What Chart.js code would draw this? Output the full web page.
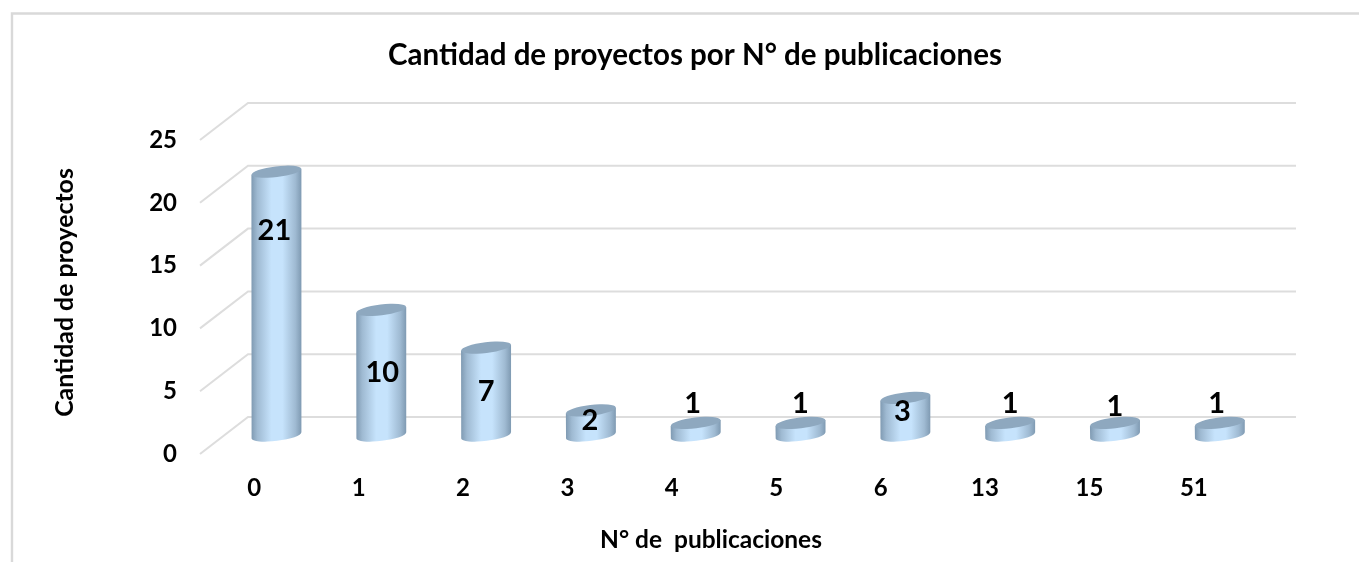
<!DOCTYPE html>
<html>
<head>
<meta charset="utf-8">
<style>html,body{margin:0;padding:0;background:#fff;overflow:hidden}canvas{display:block}</style>
<script src="https://cdn.jsdelivr.net/npm/chart.js@4"></script>
</head>
<body>
<canvas id="c" width="1359" height="562"></canvas>
<script>
const categories = ['0','1','2','3','4','5','6','13','15','51'];
const proyectos = [21,10,7,2,1,1,3,1,1,1];
const chartTitle = 'Cantidad de proyectos por N° de publicaciones';
const xTitle = 'N° de  publicaciones';
const yTitle = 'Cantidad de proyectos';
const FONT = 'Lato, "Open Sans", sans-serif';

const style = {
  depthX: 48, depthY: 37, grid: '#dddddd', frame: '#d9d9d9',
  edge: '#7f9ab2', mid: '#c6e3fc', cap: '#8ea8bf', rx: 25, ry: 5.4, tilt: -6.8 * Math.PI / 180
};
// label offsets from the middle of each cylinder
const labelNudge = [[-2,-73],[1,0],[0,0],[-1,-2],[-3,-26],[0,-26],[-3,-5],[0,-26],[0,-23],[-3,-26]];

const wall = {
  id: 'wall',
  beforeDraw(chart) {
    const {ctx, scales: {x, y}} = chart;
    ctx.save();
    ctx.fillStyle = '#fff';
    ctx.fillRect(0, 0, chart.width, chart.height);
    ctx.strokeStyle = style.frame; ctx.lineWidth = 2.4;
    ctx.beginPath(); ctx.moveTo(12, chart.height); ctx.lineTo(12, 13.5); ctx.lineTo(chart.width, 13.5); ctx.stroke();
    ctx.strokeStyle = style.grid; ctx.lineWidth = 2;
    const x0 = x.left - 2, x1 = x.right + 2;
    y.ticks.forEach(t => {
      const py = y.getPixelForValue(t.value);
      ctx.beginPath();
      ctx.moveTo(x0, py);
      ctx.lineTo(x0 + style.depthX, py - style.depthY);
      ctx.lineTo(x1 + style.depthX, py - style.depthY);
      ctx.stroke();
    });
    ctx.fillStyle = '#000';
    ctx.textAlign = 'center';
    ctx.textBaseline = 'middle';
    ctx.font = 'bold 29.5px ' + FONT;
    ctx.fillText(chartTitle, 695, 55);
    ctx.font = 'bold 24.5px ' + FONT;
    ctx.fillText(xTitle, 711, 540);
    ctx.translate(65, 292.5);
    ctx.rotate(-Math.PI / 2);
    ctx.font = 'bold 24.9px ' + FONT;
    ctx.fillText(yTitle, 0, 0);
    ctx.restore();
  }
};

const cylinders = {
  id: 'cylinders',
  beforeDatasetDraw(chart, args) {
    const {ctx, scales: {x}} = chart;
    const {rx, ry, tilt} = style;
    const sx = Math.sin(tilt) * rx;
    args.meta.data.forEach((bar, i) => {
      const cx = bar.x + 22 + (bar.x - x.left) * 0.004;
      const top = bar.y - 18.5;
      const base = bar.base - 18.5;
      const g = ctx.createLinearGradient(cx - rx, 0, cx + rx, 0);
      g.addColorStop(0, style.edge);
      g.addColorStop(0.12, '#9fbad2');
      g.addColorStop(0.4, style.mid);
      g.addColorStop(0.62, style.mid);
      g.addColorStop(0.88, '#9fbad2');
      g.addColorStop(1, style.edge);
      ctx.save();
      ctx.fillStyle = g;
      ctx.beginPath();
      ctx.moveTo(cx - rx, top - sx);
      ctx.lineTo(cx + rx, top + sx);
      ctx.lineTo(cx + rx, base + sx);
      ctx.ellipse(cx, base, rx, ry, tilt, 0, Math.PI);
      ctx.closePath();
      ctx.fill();
      ctx.fillStyle = style.cap;
      ctx.beginPath();
      ctx.ellipse(cx, top, rx, ry, tilt, 0, Math.PI * 2);
      ctx.fill();
      ctx.restore();
    });
    return false;
  },
  afterDatasetsDraw(chart) {
    const {ctx, scales: {x}} = chart;
    const meta = chart.getDatasetMeta(0);
    ctx.save();
    ctx.fillStyle = '#000';
    ctx.font = 'bold 29px ' + FONT;
    ctx.textAlign = 'center';
    ctx.textBaseline = 'middle';
    meta.data.forEach((bar, i) => {
      const cx = bar.x + 22 + (bar.x - x.left) * 0.004;
      const mid = (bar.y + bar.base) / 2 - 18.5;
      ctx.fillText(String(proyectos[i]), cx + labelNudge[i][0], mid + labelNudge[i][1]);
    });
    ctx.restore();
  }
};

new Chart(document.getElementById('c'), {
  type: 'bar',
  data: {
    labels: categories,
    datasets: [{ label: yTitle, data: proyectos, backgroundColor: '#c6e3fc', barPercentage: 0.479, categoryPercentage: 1 }]
  },
  options: {
    responsive: false,
    animation: false,
    devicePixelRatio: 1,
    layout: { padding: { left: 45, right: 113, top: 140, bottom: 0 } },
    plugins: {
      legend: { display: false },
      tooltip: { enabled: false },
      title: { display: false }
    },
    scales: {
      x: {
        grid: { display: false, drawTicks: false },
        border: { display: false },
        ticks: { color: '#000', padding: 20, font: { family: FONT, size: 24, weight: 'bold' }, maxRotation: 0 },
        afterFit(s) { s.height = 108; }
      },
      y: {
        min: 0, max: 25,
        grid: { display: false, drawTicks: false },
        border: { display: false },
        ticks: { stepSize: 5, color: '#000', padding: 25, font: { family: FONT, size: 24, weight: 'bold' } },
        afterFit(s) { s.width = 157; }
      }
    }
  },
  plugins: [wall, cylinders]
});
</script>
</body>
</html>
